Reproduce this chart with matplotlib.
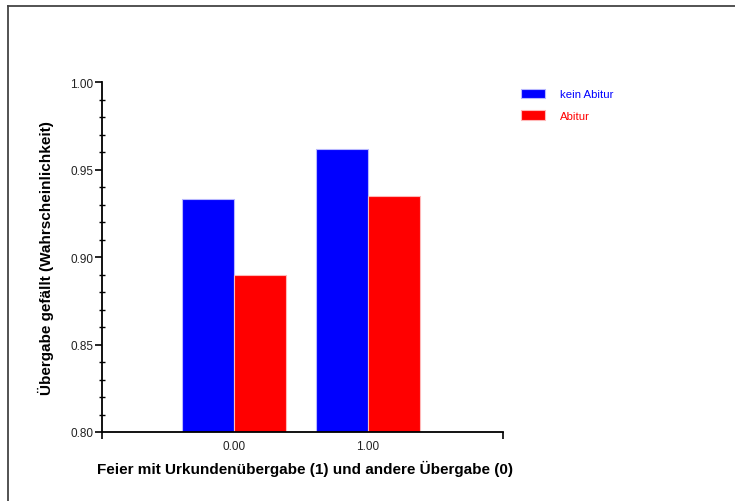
import numpy as np
import matplotlib.pyplot as plt
from matplotlib.lines import Line2D

plt.rcParams['font.family'] = ['Liberation Sans', 'DejaVu Sans']

groups = [0.0, 1.0]
group_labels = ['0.00', '1.00']
kein_abitur = [0.933, 0.962]
abitur = [0.890, 0.935]
series_names = ['kein Abitur', 'Abitur']
series_colors = ['#0000ff', '#ff0000']

fig = plt.figure(figsize=(7.35, 5.02), dpi=100)
ax = fig.add_axes([102 / 735, 69 / 502, 401 / 735, 350 / 502])

x = np.array(groups)
w = 0.39
ax.bar(x - w / 2, kein_abitur, width=w, color=series_colors[0], edgecolor='#b8b8ff',
       lw=0.8, label=series_names[0])
ax.bar(x + w / 2, abitur, width=w, color=series_colors[1], edgecolor='#ffb8b8',
       lw=0.8, label=series_names[1])

ax.set_xlim(-0.985, 2.007)
ax.set_ylim(0.80, 1.00)
for s in ['top', 'right']:
    ax.spines[s].set_visible(False)
for s in ['left', 'bottom']:
    ax.spines[s].set_linewidth(1.3)

ax.set_yticks([0.80, 0.85, 0.90, 0.95, 1.00])
ax.set_yticklabels(['0.80', '0.85', '0.90', '0.95', '1.00'], fontsize=8.5, color='#222222')
ax.set_yticks(np.arange(0.80, 1.0001, 0.01), minor=True)
ax.tick_params(axis='y', which='major', direction='out', length=5, width=1.2, pad=1)
ax.tick_params(axis='y', which='minor', direction='inout', length=5, width=1)

ax.set_xticks(x)
ax.set_xticklabels(group_labels, fontsize=8.5, color='#222222')
ax.set_xticks([-0.985, 2.007], minor=True)
ax.tick_params(axis='x', which='major', length=0, pad=6)
ax.tick_params(axis='x', which='minor', direction='out', length=5, width=1.2)

ax.set_ylabel('Übergabe gefällt (Wahrscheinlichkeit)', fontsize=11, fontweight='bold',
              labelpad=12)
ax.set_xlabel('Feier mit Urkundenübergabe (1) und andere Übergabe (0)', fontsize=11,
              fontweight='bold')
ax.xaxis.set_label_coords(0.505, -0.08)

ax.legend(loc='upper left', bbox_to_anchor=(1.02, 1.01), frameon=False, fontsize=8.2,
          handlelength=2.1, handleheight=0.9, handletextpad=1.3, labelspacing=0.95,
          labelcolor=series_colors)

# partial frame around the figure
fig.add_artist(Line2D([8 / 735, 1], [1 - 7 / 502, 1 - 7 / 502], color='#444444', lw=1.3,
                      transform=fig.transFigure))
fig.add_artist(Line2D([8 / 735, 8 / 735], [0, 1 - 7 / 502], color='#444444', lw=1.3,
                      transform=fig.transFigure))

fig.savefig('out.png', dpi=100)
